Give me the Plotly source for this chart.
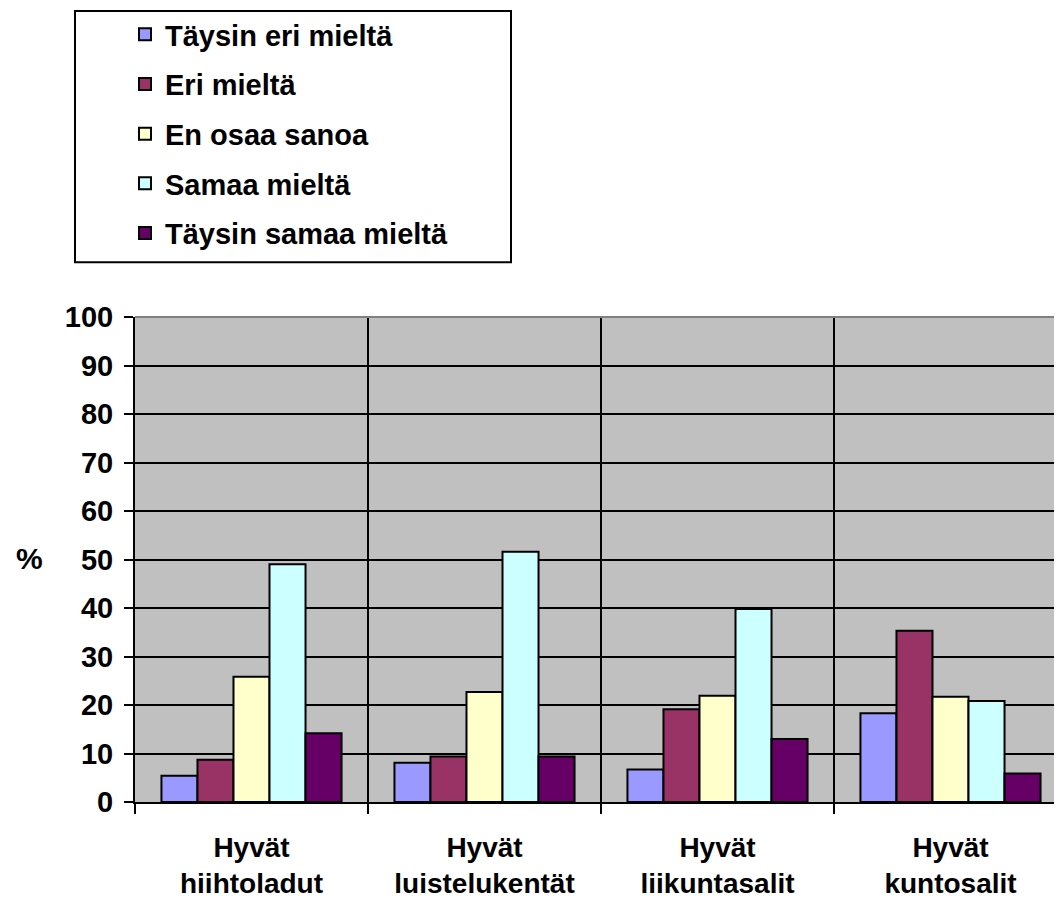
import plotly.graph_objects as go

categories = ["Hyvät<br>hiihtoladut", "Hyvät<br>luistelukentät", "Hyvät<br>liikuntasalit", "Hyvät<br>kuntosalit"]
series_names = ["Täysin eri mieltä", "Eri mieltä", "En osaa sanoa", "Samaa mieltä", "Täysin samaa mieltä"]
taysin_eri = [5.4, 8.1, 6.7, 18.3]
eri = [8.7, 9.4, 19.1, 35.3]
en_osaa = [25.8, 22.7, 21.9, 21.7]
samaa = [49.0, 51.6, 39.8, 20.8]
taysin_samaa = [14.2, 9.4, 13.0, 5.9]
y_ticks = [0, 10, 20, 30, 40, 50, 60, 70, 80, 90, 100]

values = [taysin_eri, eri, en_osaa, samaa, taysin_samaa]
colors = ["#9999FF", "#993366", "#FFFFCC", "#CCFFFF", "#660066"]

# the page body has an 8px margin, so the figure is drawn 8px smaller
OFF = 8
W, H = 1062 - OFF, 899 - OFF
L, R, T = 135 - OFF, 0, 317 - OFF
B = H - (805 - OFF)
PW = W - L - R
PH = H - T - B
CAT_W = 233.0

def px_x(page_x):
    return (page_x - OFF - L) / PW

def px_y(page_y):
    return (H - B - (page_y - OFF)) / PH

FONT = "Liberation Sans, Arial, sans-serif"

fig = go.Figure()
for i, (name, vals, col) in enumerate(zip(series_names, values, colors)):
    fig.add_trace(go.Bar(
        x=categories, y=vals, name=name,
        marker=dict(color=col, line=dict(color="black", width=2)),
        legendgroup=f"g{i}",
    ))

fig.update_layout(
    width=W, height=H,
    margin=dict(l=L, r=R, t=T, b=B, pad=0),
    paper_bgcolor="white",
    plot_bgcolor="#C0C0C0",
    barmode="group",
    bargap=0.227,
    bargroupgap=0,
    font=dict(family=FONT, size=28, color="black", weight="bold"),
    showlegend=True,
    legend=dict(
        x=px_x(125), y=px_y(7), xanchor="left", yanchor="top",
        bgcolor="rgba(0,0,0,0)", borderwidth=0,
        font=dict(family=FONT, size=29, color="black", weight="bold"),
        tracegroupgap=9,
        traceorder="grouped",
    ),
    xaxis=dict(
        type="category",
        range=[-0.5, -0.5 + PW / CAT_W],
        autorange=False,
        tickson="boundaries",
        ticks="outside", ticklen=10, tickwidth=2, tickcolor="black",
        showgrid=True, gridcolor="black", gridwidth=2,
        showline=True, linecolor="black", linewidth=2,
        tickfont=dict(family=FONT, size=28, color="black", weight="bold"),
        ticklabelstandoff=19,
        fixedrange=True,
    ),
    yaxis=dict(
        range=[0, 100], autorange=False,
        tickvals=y_ticks,
        ticks="outside", ticklen=9, tickwidth=2, tickcolor="black",
        showgrid=True, gridcolor="black", gridwidth=2,
        showline=True, linecolor="black", linewidth=2,
        zeroline=False,
        tickfont=dict(family=FONT, size=29, color="black", weight="bold"),
        ticklabelstandoff=5,
        fixedrange=True,
    ),
    shapes=[
        # legend frame
        dict(type="rect", xref="paper", yref="paper",
             x0=px_x(75), x1=px_x(511), y0=px_y(262), y1=px_y(9),
             line=dict(color="black", width=2), fillcolor="rgba(0,0,0,0)", layer="above"),
        # gray top border of plot area
        dict(type="line", xref="paper", yref="paper",
             x0=0, x1=1, y0=1, y1=1,
             line=dict(color="#808080", width=2), layer="above"),
    ],
    annotations=[
        dict(text="%", xref="paper", yref="paper", x=px_x(29), y=px_y(560),
             xanchor="center", yanchor="middle", showarrow=False,
             font=dict(family=FONT, size=30, color="black", weight="bold")),
    ],
)

fig.write_html("out.html", config={"displayModeBar": False})
